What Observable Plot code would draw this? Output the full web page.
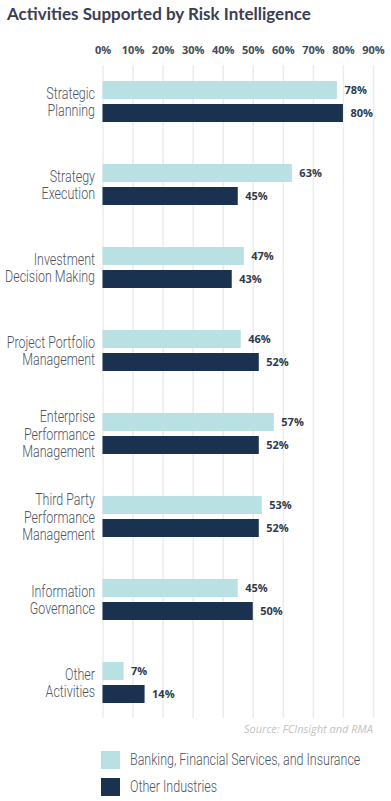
<!DOCTYPE html>
<html><head><meta charset="utf-8">
<script src="https://cdn.jsdelivr.net/npm/d3@7"></script>
<script src="https://cdn.jsdelivr.net/npm/@observablehq/plot@0.6"></script>
<style>
html,body{margin:0;padding:0;background:#fff}
body{width:391px;height:801px;overflow:hidden;position:relative;font-family:"Open Sans",sans-serif}
#title{position:absolute;left:7px;top:3px;font-family:Lato,sans-serif;font-weight:700;font-size:17px;color:#3a4050;white-space:nowrap}
#chart{position:absolute;left:0;top:28px}
#source{position:absolute;right:18px;top:721px;font-family:"Open Sans",sans-serif;font-style:italic;font-size:11px;color:#c3c3c3}
.leg{position:absolute;left:101px;display:flex;align-items:center;white-space:nowrap}
.sw{width:19px;height:18px;margin-right:10px;flex:none}
.lt{font-family:Roboto,sans-serif;font-weight:300;font-size:16px;color:#4e5562;transform:scaleX(0.78);transform-origin:left center}
</style>
</head><body>
<div id="title">Activities Supported by Risk Intelligence</div>
<div id="chart"></div>
<div id="source">Source: FCInsight and RMA</div>
<div id="legend"></div>
<script>
const activities = ["Strategic\nPlanning", "Strategy\nExecution", "Investment\nDecision Making", "Project Portfolio\nManagement", "Enterprise\nPerformance\nManagement", "Third Party\nPerformance\nManagement", "Information\nGovernance", "Other\nActivities"];
const bfsi = [78, 63, 47, 46, 57, 53, 45, 7];
const otherInd = [80, 45, 43, 52, 52, 52, 50, 14];
const xTicks = [0, 10, 20, 30, 40, 50, 60, 70, 80, 90];
const seriesNames = ["Banking, Financial Services, and Insurance", "Other Industries"];
const colors = ["#b9e0e3", "#1b3150"];

const rows = activities.map((a, i) => ({activity: a, bfsi: bfsi[i], other: otherInd[i]}));

const chart = Plot.plot({
  width: 391,
  height: 690,
  marginTop: 37,
  marginBottom: 0,
  marginLeft: 102.5,
  marginRight: 18,
  style: {fontFamily: "Open Sans, sans-serif", background: "transparent"},
  x: {domain: [0, 90], ticks: xTicks, axis: "top", tickSize: 0, tickPadding: 12, label: null, tickFormat: d => d + "%"},
  y: {domain: activities, axis: null, paddingInner: 0.51, paddingOuter: 0.16},
  marks: [
    Plot.ruleX(xTicks, {stroke: "#ececec", strokeWidth: 1.5}),
    Plot.barX(rows, {y: "activity", x: "bfsi", fill: colors[0], insetBottom: 23}),
    Plot.barX(rows, {y: "activity", x: "other", fill: colors[1], insetTop: 23}),
    Plot.text(rows, {y: "activity", x: "bfsi", text: d => d.bfsi + "%", dx: 7, dy: -11.5, textAnchor: "start", fontWeight: 700, fontSize: 11, fill: "#2e3a4c"}),
    Plot.text(rows, {y: "activity", x: "other", text: d => d.other + "%", dx: 7, dy: 11.5, textAnchor: "start", fontWeight: 700, fontSize: 11, fill: "#2e3a4c"}),
    Plot.text(activities, {y: d => d, text: d => d, frameAnchor: "left", dx: -8, textAnchor: "end", lineHeight: 1.1, fontSize: 16, fontWeight: 300, fill: "#4e5562", fontFamily: "Roboto, sans-serif"})
  ]
});
const ax = chart.querySelector("g[aria-label='x-axis'], g[aria-label='x-axis tick label']");
if (ax) {
  ax.setAttribute("font-size", "11"); ax.setAttribute("fill", "#454b58"); ax.setAttribute("font-weight", "700");
}
const textGroups = chart.querySelectorAll("g[aria-label='text']");
const labelG = textGroups[textGroups.length - 1];
labelG.querySelectorAll("text").forEach(t => {
  const tr = t.getAttribute("transform");
  if (tr) t.setAttribute("transform", tr + " scale(0.78,1)");
  else {
    const x = +(t.getAttribute("x") || 0);
    t.setAttribute("transform", `translate(${x},0) scale(0.78,1) translate(${-x},0)`);
  }
});
document.getElementById("chart").appendChild(chart);

const leg = document.getElementById("legend");
seriesNames.forEach((name, i) => {
  const d = document.createElement("div");
  d.className = "leg";
  d.style.top = (750 + i * 27) + "px";
  d.innerHTML = `<div class="sw" style="background:${colors[i]}"></div><span class="lt">${name}</span>`;
  leg.appendChild(d);
});
</script>
</body></html>
